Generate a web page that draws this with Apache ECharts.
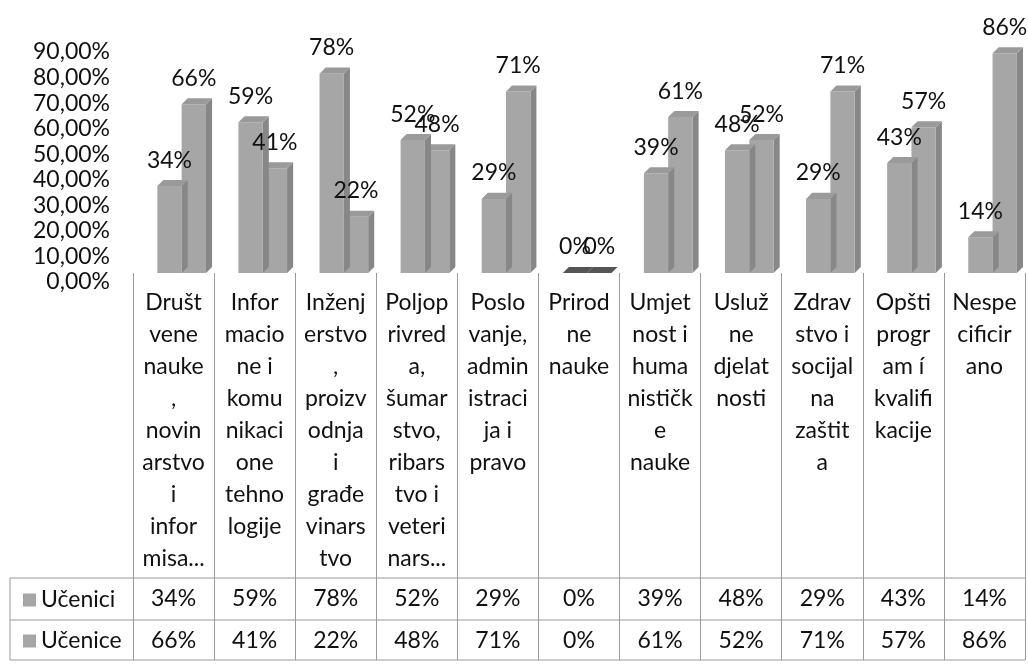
<!DOCTYPE html>
<html>
<head>
<meta charset="utf-8">
<script src="https://cdn.jsdelivr.net/npm/echarts@6/dist/echarts.min.js"></script>
<style>
  html, body { margin: 0; padding: 0; background: #fff; }
  #main { width: 1028px; height: 664px; }
</style>
</head>
<body>
<div id="main"></div>
<script>
// podaci
var kategorije = [
    "Društ\nvene\nnauke\n,\nnovin\narstvo\ni\ninfor\nmisa...",
    "Infor\nmacio\nne i\nkomu\nnikaci\none\ntehno\nlogije",
    "Inženj\nerstvo\n,\nproizv\nodnja\ni\ngrađe\nvinars\ntvo",
    "Poljop\nrivred\na,\nšumar\nstvo,\nribars\ntvo i\nveteri\nnars...",
    "Poslo\nvanje,\nadmin\nistraci\nja i\npravo",
    "Prirod\nne\nnauke",
    "Umjet\nnost i\nhuma\nnističk\ne\nnauke",
    "Usluž\nne\ndjelat\nnosti",
    "Zdrav\nstvo i\nsocijal\nna\nzaštit\na",
    "Opšti\nprogr\nam í\nkvalifi\nkacije",
    "Nespe\ncificir\nano"
];
var ucenici = [34, 59, 78, 52, 29, 0, 39, 48, 29, 43, 14];
var ucenice = [66, 41, 22, 48, 71, 0, 61, 52, 71, 57, 86];
var yTicks = [0, 10, 20, 30, 40, 50, 60, 70, 80, 90];

var FONT = 'Lato';
var TXT = '#111';

function makeRender(shift, layer) {
    return function (params, api) {
        var cat = api.value(0), v = api.value(1);
        var base = api.coord([cat, 0]);
        var top = api.coord([cat, v]);
        var bw = api.size([1, 0])[0];
        var w = 0.3 * bw, d = 0.075 * bw;
        var x0 = base[0] + shift * bw;
        var yb = base[1], yt = top[1];
        var children = [];
        if (v > 0) {
            children.push({ type: 'polygon', z2: layer, shape: { points: [[x0 + w, yt], [x0 + w + d, yt - d], [x0 + w + d, yb - d], [x0 + w, yb]] },
                style: { fill: '#878787' } });
            children.push({ type: 'rect', z2: layer, shape: { x: x0, y: yt, width: w, height: yb - yt },
                style: { fill: '#a6a6a6' } });
        }
        children.push({ type: 'polygon', z2: layer, shape: { points: [[x0, yt], [x0 + w, yt], [x0 + w + d, yt - d], [x0 + d, yt - d]] },
            style: { fill: v > 0 ? '#9a9a9a' : '#555555' } });
        children.push({ type: 'text', z2: 20, x: x0 + w / 2, y: yt - 26,
            style: { text: v + '%', fontFamily: FONT, fontSize: 23, fill: TXT, align: 'center', verticalAlign: 'middle' } });
        return { type: 'group', children: children };
    };
}

function toData(arr) {
    return arr.map(function (v, i) { return [i, v]; });
}

var myChart = echarts.init(document.getElementById('main'));
var option = {
    animation: false,
    backgroundColor: '#fff',
    textStyle: { fontFamily: FONT },
    grid: [
        { left: 133, right: 3, top: 43, bottom: 391 },
        // samo za oznake y ose (pomjerene kao zadnji zid 3D grafikona)
        { left: 133, right: 3, top: 52, bottom: 382 }
    ],
    legend: {
        orient: 'vertical',
        left: 18,
        top: 583,
        icon: 'rect',
        itemWidth: 13,
        itemHeight: 13,
        itemGap: 17,
        textStyle: { fontFamily: FONT, fontSize: 23, color: TXT, lineHeight: 24 },
        data: ['Učenici', 'Učenice']
    },
    xAxis: [
        {
            type: 'category',
            data: kategorije,
            axisLine: { show: false },
            axisTick: { show: true, length: 387, lineStyle: { color: '#9a9a9a' } },
            axisLabel: { interval: 0, margin: 14, fontFamily: FONT, fontSize: 23, lineHeight: 32, color: TXT, align: 'center' }
        },
        {
            type: 'category',
            position: 'bottom',
            offset: 326,
            data: ucenici.map(function (v) { return v + '%'; }),
            axisLine: { show: false },
            axisTick: { show: false },
            axisLabel: { interval: 0, margin: 0, verticalAlign: 'middle', fontFamily: FONT, fontSize: 23, color: TXT }
        },
        {
            type: 'category',
            position: 'bottom',
            offset: 368,
            data: ucenice.map(function (v) { return v + '%'; }),
            axisLine: { show: false },
            axisTick: { show: false },
            axisLabel: { interval: 0, margin: 0, verticalAlign: 'middle', fontFamily: FONT, fontSize: 23, color: TXT }
        },
        {
            type: 'category',
            gridIndex: 1,
            data: kategorije,
            show: false
        }
    ],
    yAxis: [
        {
            type: 'value',
            min: yTicks[0],
            max: yTicks[yTicks.length - 1],
            interval: 10,
            axisLine: { show: false },
            axisTick: { show: false },
            splitLine: { show: false },
            axisLabel: { show: false }
        },
        {
            type: 'value',
            gridIndex: 1,
            min: yTicks[0],
            max: yTicks[yTicks.length - 1],
            interval: 10,
            axisLine: { show: false },
            axisTick: { show: false },
            splitLine: { show: false },
            axisLabel: {
                margin: 23,
                fontFamily: FONT,
                fontSize: 23,
                color: TXT,
                formatter: function (v) { return v.toFixed(2).replace('.', ',') + '%'; }
            }
        }
    ],
    graphic: [
        { type: 'line', shape: { x1: 10, y1: 578, x2: 1025, y2: 578 }, style: { stroke: '#9a9a9a', lineWidth: 1 } },
        { type: 'line', shape: { x1: 10, y1: 620, x2: 1025, y2: 620 }, style: { stroke: '#9a9a9a', lineWidth: 1 } },
        { type: 'line', shape: { x1: 10, y1: 660, x2: 1025, y2: 660 }, style: { stroke: '#9a9a9a', lineWidth: 1 } },
        { type: 'line', shape: { x1: 10, y1: 578, x2: 10, y2: 660 }, style: { stroke: '#9a9a9a', lineWidth: 1 } }
    ],
    series: [
        {
            name: 'Učenice',
            type: 'custom',
            renderItem: makeRender(0.1, 1),
            itemStyle: { color: '#a6a6a6' },
            encode: { x: 0, y: 1 },
            data: toData(ucenice),
            z: 2
        },
        {
            name: 'Učenici',
            type: 'custom',
            renderItem: makeRender(-0.2, 2),
            itemStyle: { color: '#a6a6a6' },
            encode: { x: 0, y: 1 },
            data: toData(ucenici),
            z: 2
        }
    ]
};
myChart.setOption(option);
</script>
</body>
</html>
